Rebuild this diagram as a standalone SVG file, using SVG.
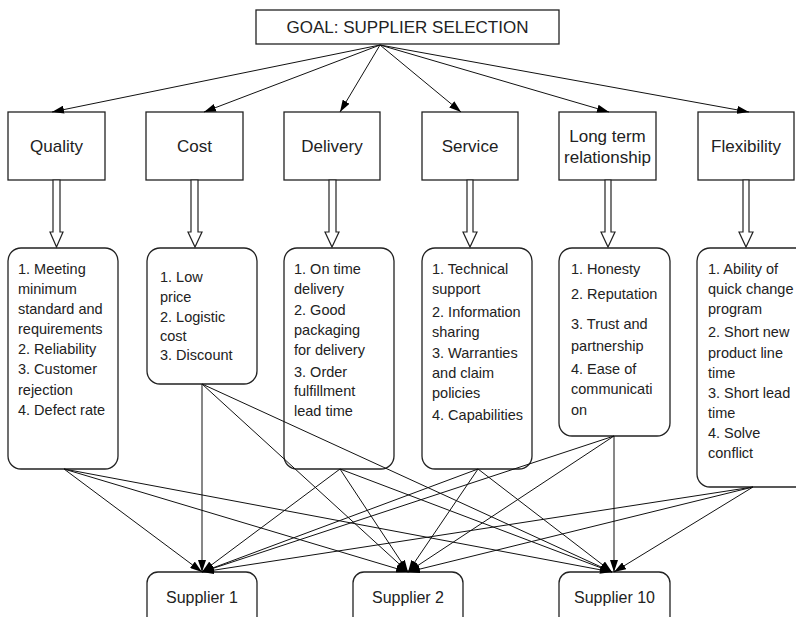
<svg xmlns="http://www.w3.org/2000/svg" width="796" height="617" viewBox="0 0 796 617">
<defs>
<marker id="ah" viewBox="0 0 12 8" refX="12" refY="4" markerWidth="12" markerHeight="8" markerUnits="userSpaceOnUse" orient="auto">
<path d="M0,0 L12,4 L0,8 Z" fill="#000"/>
</marker>
<style>
.box{fill:#fff;stroke:#222;stroke-width:1.3}
.t{font-family:"Liberation Sans",Arial,sans-serif;fill:#222}
.lbl{font-size:17px;text-anchor:middle}
.sub{font-size:14.5px}
.c{stroke:#111;stroke-width:1;fill:none;marker-end:url(#ah)}
.ha{fill:#fff;stroke:#222;stroke-width:1.2}
</style>
</defs>
<rect width="796" height="617" fill="#fff"/>

<g id="goal">
<rect class="box" x="256" y="10" width="303" height="34"/>
<text class="t lbl" x="407.5" y="33">GOAL: SUPPLIER SELECTION</text>
</g>

<g id="quality">
<rect class="box" x="8" y="112" width="97" height="68"/>
<text class="t lbl" x="56.5" y="152">Quality</text>
</g>
<g id="cost">
<rect class="box" x="146" y="112" width="97" height="68"/>
<text class="t lbl" x="194.5" y="152">Cost</text>
</g>
<g id="delivery">
<rect class="box" x="284" y="112" width="96" height="68"/>
<text class="t lbl" x="332" y="152">Delivery</text>
</g>
<g id="service">
<rect class="box" x="422" y="112" width="96" height="68"/>
<text class="t lbl" x="470" y="152">Service</text>
</g>
<g id="longterm">
<rect class="box" x="559" y="112" width="97" height="68"/>
<text class="t lbl" x="607.5" y="142">Long term</text>
<text class="t lbl" x="607.5" y="163">relationship</text>
</g>
<g id="flexibility">
<rect class="box" x="698" y="112" width="96" height="68"/>
<text class="t lbl" x="746" y="152">Flexibility</text>
</g>

<g id="quality-sub">
<rect class="box" x="8" y="248" width="110" height="221" rx="13"/>
<text class="t sub" x="18" y="274">1. Meeting</text>
<text class="t sub" x="18" y="294">minimum</text>
<text class="t sub" x="18" y="314">standard and</text>
<text class="t sub" x="18" y="334">requirements</text>
<text class="t sub" x="18" y="354">2. Reliability</text>
<text class="t sub" x="18" y="374">3. Customer</text>
<text class="t sub" x="18" y="395">rejection</text>
<text class="t sub" x="18" y="415">4. Defect rate</text>
</g>
<g id="cost-sub">
<rect class="box" x="147" y="248" width="110" height="136" rx="13"/>
<text class="t sub" x="160" y="282">1. Low</text>
<text class="t sub" x="160" y="302">price</text>
<text class="t sub" x="160" y="322">2. Logistic</text>
<text class="t sub" x="160" y="341">cost</text>
<text class="t sub" x="160" y="360">3. Discount</text>
</g>
<g id="delivery-sub">
<rect class="box" x="284" y="248" width="110" height="221" rx="13"/>
<text class="t sub" x="294" y="274">1. On time</text>
<text class="t sub" x="294" y="294">delivery</text>
<text class="t sub" x="294" y="315">2. Good</text>
<text class="t sub" x="294" y="335">packaging</text>
<text class="t sub" x="294" y="355">for delivery</text>
<text class="t sub" x="294" y="377">3. Order</text>
<text class="t sub" x="294" y="396">fulfillment</text>
<text class="t sub" x="294" y="416">lead time</text>
</g>
<g id="service-sub">
<rect class="box" x="422" y="248" width="110" height="221" rx="13"/>
<text class="t sub" x="432" y="274">1. Technical</text>
<text class="t sub" x="432" y="294">support</text>
<text class="t sub" x="432" y="317">2. Information</text>
<text class="t sub" x="432" y="337">sharing</text>
<text class="t sub" x="432" y="358">3. Warranties</text>
<text class="t sub" x="432" y="378">and claim</text>
<text class="t sub" x="432" y="398">policies</text>
<text class="t sub" x="432" y="420">4. Capabilities</text>
</g>
<g id="longterm-sub">
<rect class="box" x="559" y="248" width="111" height="188" rx="13"/>
<text class="t sub" x="571" y="274">1. Honesty</text>
<text class="t sub" x="571" y="299">2. Reputation</text>
<text class="t sub" x="571" y="329">3. Trust and</text>
<text class="t sub" x="571" y="351">partnership</text>
<text class="t sub" x="571" y="374">4. Ease of</text>
<text class="t sub" x="571" y="394">communicati</text>
<text class="t sub" x="571" y="415">on</text>
</g>
<g id="flexibility-sub">
<rect class="box" x="697" y="248" width="112" height="239" rx="13"/>
<text class="t sub" x="708" y="274">1. Ability of</text>
<text class="t sub" x="708" y="294">quick change</text>
<text class="t sub" x="708" y="314">program</text>
<text class="t sub" x="708" y="337">2. Short new</text>
<text class="t sub" x="708" y="358">product line</text>
<text class="t sub" x="708" y="378">time</text>
<text class="t sub" x="708" y="398">3. Short lead</text>
<text class="t sub" x="708" y="418">time</text>
<text class="t sub" x="708" y="438">4. Solve</text>
<text class="t sub" x="708" y="458">conflict</text>
</g>

<g id="supplier1">
<rect class="box" x="147" y="572" width="110" height="60" rx="11"/>
<text class="t lbl" x="202" y="603" style="font-size:16px">Supplier 1</text>
</g>
<g id="supplier2">
<rect class="box" x="353" y="572" width="110" height="60" rx="11"/>
<text class="t lbl" x="408" y="603" style="font-size:16px">Supplier 2</text>
</g>
<g id="supplier10">
<rect class="box" x="559" y="572" width="111" height="60" rx="11"/>
<text class="t lbl" x="614.5" y="603" style="font-size:16px">Supplier 10</text>
</g>

<g id="connectors">
<line class="c" x1="380" y1="45" x2="52" y2="112"/>
<line class="c" x1="380" y1="45" x2="204" y2="112"/>
<line class="c" x1="380" y1="45" x2="340" y2="112"/>
<line class="c" x1="380" y1="45" x2="461" y2="112"/>
<line class="c" x1="380" y1="45" x2="609" y2="112"/>
<line class="c" x1="380" y1="45" x2="749" y2="112"/>

<polygon class="ha" points="53,180 53,232 50,232 56.5,247 63,232 60,232 60,180"/>
<polygon class="ha" points="191,180 191,232 188,232 195,247 202,232 198,232 198,180"/>
<polygon class="ha" points="329,180 329,232 325,232 332,247 339,232 336,232 336,180"/>
<polygon class="ha" points="467,180 467,232 463,232 470,247 477,232 473,232 473,180"/>
<polygon class="ha" points="605,180 605,232 601,232 608,247 615,232 611,232 611,180"/>
<polygon class="ha" points="743,180 743,232 739,232 746,247 753,232 749,232 749,180"/>

<line class="c" x1="64" y1="469" x2="202" y2="572"/>
<line class="c" x1="64" y1="469" x2="408" y2="572"/>
<line class="c" x1="64" y1="469" x2="612" y2="572"/>
<line class="c" x1="202" y1="384" x2="202" y2="572"/>
<line class="c" x1="202" y1="384" x2="408" y2="572"/>
<line class="c" x1="202" y1="384" x2="612" y2="572"/>
<line class="c" x1="340" y1="469" x2="202" y2="572"/>
<line class="c" x1="340" y1="469" x2="408" y2="572"/>
<line class="c" x1="340" y1="469" x2="612" y2="572"/>
<line class="c" x1="478" y1="469" x2="202" y2="572"/>
<line class="c" x1="478" y1="469" x2="408" y2="572"/>
<line class="c" x1="478" y1="469" x2="612" y2="572"/>
<line class="c" x1="614" y1="436" x2="202" y2="572"/>
<line class="c" x1="614" y1="436" x2="408" y2="572"/>
<line class="c" x1="614" y1="436" x2="614" y2="572"/>
<line class="c" x1="753" y1="487" x2="202" y2="572"/>
<line class="c" x1="753" y1="487" x2="408" y2="572"/>
<line class="c" x1="753" y1="487" x2="614" y2="572"/>
</g>
</svg>
